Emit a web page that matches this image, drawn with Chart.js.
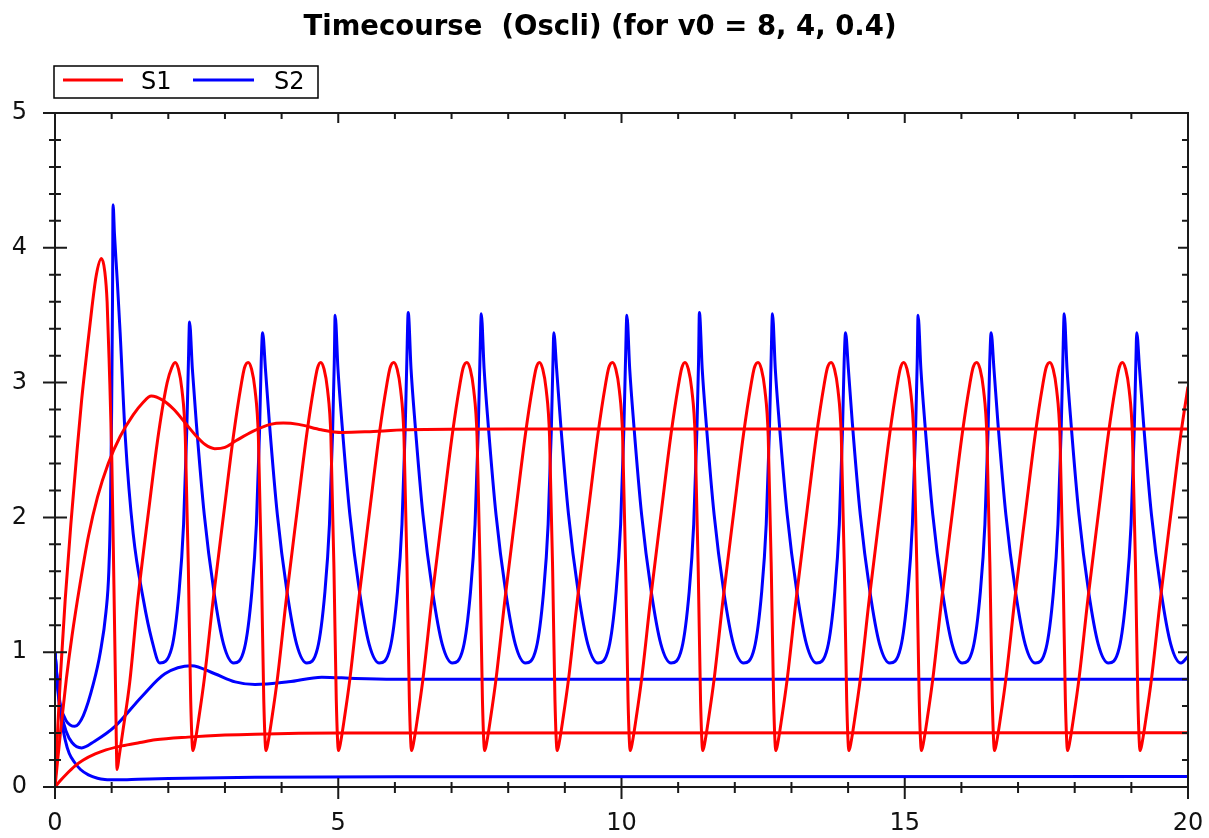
<!DOCTYPE html>
<html>
<head>
<meta charset="utf-8">
<title>Timecourse (Oscli)</title>
<script src="https://cdn.jsdelivr.net/npm/chart.js@4/dist/chart.umd.min.js"></script>
<style>
  html, body { margin: 0; padding: 0; background: #fff; }
  #wrap { width: 1209px; height: 838px; }
</style>
</head>
<body>
<div id="wrap"><canvas id="timecourse" width="1209" height="838"></canvas></div>
<script>
// Data (time, concentration)
// ******************************************
const chartTitle = 'Timecourse  (Oscli) (for v0 = 8, 4, 0.4)';
const seriesNames = ['S1', 'S2'];
const xTicks = [0, 5, 10, 15, 20];
const yTicks = [0, 1, 2, 3, 4, 5];

// v0 = 8 : S1 (oscillating)
const s1HighT = [
  0, 0.05, 0.1, 0.18, 0.28, 0.39, 0.47, 0.55, 0.65, 0.73, 0.82, 0.88, 0.92, 0.96, 1.0, 1.04, 1.07, 1.095,
  1.13, 1.2, 1.32, 1.46, 1.65, 1.83, 1.98, 2.06,
  2.12, 2.18, 2.24, 2.30, 2.355, 2.395, 2.435, 2.475, 2.535, 2.635, 2.795, 2.985, 3.155, 3.285, 3.345,
  3.41, 3.47, 3.53, 3.59, 3.645, 3.685, 3.725, 3.765, 3.825, 3.925, 4.085, 4.275, 4.445, 4.575, 4.635,
  4.69, 4.75, 4.81, 4.87, 4.925, 4.965, 5.005, 5.045, 5.105, 5.205, 5.365, 5.555, 5.725, 5.855, 5.915,
  5.98, 6.04, 6.10, 6.16, 6.215, 6.255, 6.295, 6.335, 6.395, 6.495, 6.655, 6.845, 7.015, 7.145, 7.205,
  7.27, 7.33, 7.39, 7.45, 7.505, 7.545, 7.585, 7.625, 7.685, 7.785, 7.945, 8.135, 8.305, 8.435, 8.495,
  8.55, 8.61, 8.67, 8.73, 8.785, 8.825, 8.865, 8.905, 8.965, 9.065, 9.225, 9.415, 9.585, 9.715, 9.775,
  9.84, 9.90, 9.96, 10.02, 10.075, 10.115, 10.155, 10.195, 10.255, 10.355, 10.515, 10.705, 10.875, 11.005, 11.065,
  11.12, 11.18, 11.24, 11.30, 11.355, 11.395, 11.435, 11.475, 11.535, 11.635, 11.795, 11.985, 12.155, 12.285, 12.345,
  12.41, 12.47, 12.53, 12.59, 12.645, 12.685, 12.725, 12.765, 12.825, 12.925, 13.085, 13.275, 13.445, 13.575, 13.635,
  13.70, 13.76, 13.82, 13.88, 13.935, 13.975, 14.015, 14.055, 14.115, 14.215, 14.375, 14.565, 14.735, 14.865, 14.925,
  14.98, 15.04, 15.10, 15.16, 15.215, 15.255, 15.295, 15.335, 15.395, 15.495, 15.655, 15.845, 16.015, 16.145, 16.205,
  16.27, 16.33, 16.39, 16.45, 16.505, 16.545, 16.585, 16.625, 16.685, 16.785, 16.945, 17.135, 17.305, 17.435, 17.495,
  17.56, 17.62, 17.68, 17.74, 17.795, 17.835, 17.875, 17.915, 17.975, 18.075, 18.235, 18.425, 18.595, 18.725, 18.785,
  18.84, 18.90, 18.96, 19.02, 19.075, 19.115, 19.155, 19.195, 19.255, 19.355, 19.515, 19.705, 19.875, 20.0,
];
const s1HighV = [
  0, 0.45, 0.85, 1.39, 1.95, 2.5, 2.87, 3.18, 3.55, 3.8, 3.92, 3.82, 3.6, 3.1, 2.5, 1.5, 0.7, 0.13,
  0.22, 0.42, 0.78, 1.38, 2.04, 2.63, 3.0, 3.11,
  3.15, 3.1, 2.95, 2.6, 1.6, 0.65, 0.27, 0.34, 0.5, 0.8, 1.4, 2.05, 2.62, 2.98, 3.11,
  3.15, 3.1, 2.95, 2.6, 1.6, 0.65, 0.27, 0.34, 0.5, 0.8, 1.4, 2.05, 2.62, 2.98, 3.11,
  3.15, 3.1, 2.95, 2.6, 1.6, 0.65, 0.27, 0.34, 0.5, 0.8, 1.4, 2.05, 2.62, 2.98, 3.11,
  3.15, 3.1, 2.95, 2.6, 1.6, 0.65, 0.27, 0.34, 0.5, 0.8, 1.4, 2.05, 2.62, 2.98, 3.11,
  3.15, 3.1, 2.95, 2.6, 1.6, 0.65, 0.27, 0.34, 0.5, 0.8, 1.4, 2.05, 2.62, 2.98, 3.11,
  3.15, 3.1, 2.95, 2.6, 1.6, 0.65, 0.27, 0.34, 0.5, 0.8, 1.4, 2.05, 2.62, 2.98, 3.11,
  3.15, 3.1, 2.95, 2.6, 1.6, 0.65, 0.27, 0.34, 0.5, 0.8, 1.4, 2.05, 2.62, 2.98, 3.11,
  3.15, 3.1, 2.95, 2.6, 1.6, 0.65, 0.27, 0.34, 0.5, 0.8, 1.4, 2.05, 2.62, 2.98, 3.11,
  3.15, 3.1, 2.95, 2.6, 1.6, 0.65, 0.27, 0.34, 0.5, 0.8, 1.4, 2.05, 2.62, 2.98, 3.11,
  3.15, 3.1, 2.95, 2.6, 1.6, 0.65, 0.27, 0.34, 0.5, 0.8, 1.4, 2.05, 2.62, 2.98, 3.11,
  3.15, 3.1, 2.95, 2.6, 1.6, 0.65, 0.27, 0.34, 0.5, 0.8, 1.4, 2.05, 2.62, 2.98, 3.11,
  3.15, 3.1, 2.95, 2.6, 1.6, 0.65, 0.27, 0.34, 0.5, 0.8, 1.4, 2.05, 2.62, 2.98, 3.11,
  3.15, 3.1, 2.95, 2.6, 1.6, 0.65, 0.27, 0.34, 0.5, 0.8, 1.4, 2.05, 2.62, 2.98, 3.11,
  3.15, 3.1, 2.95, 2.6, 1.6, 0.65, 0.27, 0.34, 0.5, 0.8, 1.4, 2.05, 2.62, 2.97,
];

// v0 = 8 : S2 (oscillating, sharp spikes)
const s2HighT = [
  0, 0.05, 0.1, 0.2, 0.35, 0.5, 0.68, 0.8, 0.9, 0.95, 0.98, 1.0, 1.015, 1.025, 1.05, 1.1, 1.15, 1.24, 1.38, 1.56, 1.71, 1.85,
  2.06, 2.19, 2.27, 2.325, 2.355,
  2.375, 2.425, 2.495, 2.635, 2.805, 2.975, 3.155, 3.345, 3.475, 3.555, 3.61, 3.64,
  3.665, 3.715, 3.785, 3.925, 4.095, 4.265, 4.445, 4.635, 4.765, 4.845, 4.9, 4.93,
  4.945, 4.995, 5.065, 5.205, 5.375, 5.545, 5.725, 5.915, 6.045, 6.125, 6.18, 6.21,
  6.235, 6.285, 6.355, 6.495, 6.665, 6.835, 7.015, 7.205, 7.335, 7.415, 7.47, 7.5,
  7.525, 7.575, 7.645, 7.785, 7.955, 8.125, 8.305, 8.495, 8.625, 8.705, 8.76, 8.79,
  8.805, 8.855, 8.925, 9.065, 9.235, 9.405, 9.585, 9.775, 9.905, 9.985, 10.04, 10.07,
  10.095, 10.145, 10.215, 10.355, 10.525, 10.695, 10.875, 11.065, 11.195, 11.275, 11.33, 11.36,
  11.375, 11.425, 11.495, 11.635, 11.805, 11.975, 12.155, 12.345, 12.475, 12.555, 12.61, 12.64,
  12.665, 12.715, 12.785, 12.925, 13.095, 13.265, 13.445, 13.635, 13.765, 13.845, 13.9, 13.93,
  13.955, 14.005, 14.075, 14.215, 14.385, 14.555, 14.735, 14.925, 15.055, 15.135, 15.19, 15.22,
  15.235, 15.285, 15.355, 15.495, 15.665, 15.835, 16.015, 16.205, 16.335, 16.415, 16.47, 16.5,
  16.525, 16.575, 16.645, 16.785, 16.955, 17.125, 17.305, 17.495, 17.625, 17.705, 17.76, 17.79,
  17.815, 17.865, 17.935, 18.075, 18.245, 18.415, 18.595, 18.785, 18.915, 18.995, 19.05, 19.08,
  19.095, 19.145, 19.215, 19.355, 19.525, 19.695, 19.875, 20.0,
];
const s2HighV = [
  1.0, 0.75, 0.6, 0.49, 0.45, 0.53, 0.77, 1.0, 1.3, 1.6, 2.1, 2.8, 3.6, 4.32, 4.1, 3.75, 3.37, 2.6, 1.88, 1.39, 1.09, 0.92,
  1.03, 1.45, 1.95, 2.63, 3.15,
  3.45, 3.1, 2.7, 2.02, 1.45, 1.06, 0.92, 1.03, 1.45, 1.95, 2.63, 3.15,
  3.37, 3.1, 2.7, 2.02, 1.45, 1.06, 0.92, 1.03, 1.45, 1.95, 2.63, 3.15,
  3.50, 3.1, 2.7, 2.02, 1.45, 1.06, 0.92, 1.03, 1.45, 1.95, 2.63, 3.15,
  3.52, 3.1, 2.7, 2.02, 1.45, 1.06, 0.92, 1.03, 1.45, 1.95, 2.63, 3.15,
  3.51, 3.1, 2.7, 2.02, 1.45, 1.06, 0.92, 1.03, 1.45, 1.95, 2.63, 3.15,
  3.37, 3.1, 2.7, 2.02, 1.45, 1.06, 0.92, 1.03, 1.45, 1.95, 2.63, 3.15,
  3.50, 3.1, 2.7, 2.02, 1.45, 1.06, 0.92, 1.03, 1.45, 1.95, 2.63, 3.15,
  3.52, 3.1, 2.7, 2.02, 1.45, 1.06, 0.92, 1.03, 1.45, 1.95, 2.63, 3.15,
  3.51, 3.1, 2.7, 2.02, 1.45, 1.06, 0.92, 1.03, 1.45, 1.95, 2.63, 3.15,
  3.37, 3.1, 2.7, 2.02, 1.45, 1.06, 0.92, 1.03, 1.45, 1.95, 2.63, 3.15,
  3.50, 3.1, 2.7, 2.02, 1.45, 1.06, 0.92, 1.03, 1.45, 1.95, 2.63, 3.15,
  3.37, 3.1, 2.7, 2.02, 1.45, 1.06, 0.92, 1.03, 1.45, 1.95, 2.63, 3.15,
  3.51, 3.1, 2.7, 2.02, 1.45, 1.06, 0.92, 1.03, 1.45, 1.95, 2.63, 3.15,
  3.37, 3.1, 2.7, 2.02, 1.45, 1.06, 0.92, 0.97,
];

// v0 = 4 : damped towards steady state
const s1MidT = [0, 0.1, 0.2, 0.3, 0.44, 0.59, 0.75, 0.94, 1.15, 1.38, 1.55, 1.7, 1.9, 2.1, 2.3, 2.5, 2.65, 2.82,
  3.0, 3.2, 3.5, 3.8, 4.03, 4.3, 4.7, 5.06, 5.5, 6.2, 8, 20];
const s1MidV = [0, 0.42, 0.8, 1.12, 1.5, 1.86, 2.15, 2.4, 2.6, 2.76, 2.85, 2.9, 2.87, 2.8, 2.7, 2.6, 2.54, 2.51,
  2.52, 2.57, 2.64, 2.69, 2.70, 2.69, 2.65, 2.63, 2.635, 2.65, 2.655, 2.655];
const s2MidT = [0, 0.05, 0.1, 0.2, 0.3, 0.47, 0.7, 1.06, 1.53, 1.94, 2.41, 2.82, 3.18, 3.53, 4.12, 4.71, 5.3, 6.0, 7.0, 20];
const s2MidV = [1.0, 0.74, 0.57, 0.41, 0.33, 0.29, 0.34, 0.45, 0.67, 0.84, 0.90, 0.84, 0.78, 0.76, 0.78, 0.815, 0.805, 0.80, 0.80, 0.80];

// v0 = 0.4 : monotone
const s1LowT = [0, 0.1, 0.2, 0.35, 0.5, 0.71, 0.9, 1.18, 1.5, 1.77, 2.35, 3.0, 3.53, 5, 20];
const s1LowV = [0, 0.05, 0.095, 0.155, 0.2, 0.245, 0.275, 0.305, 0.33, 0.35, 0.37, 0.385, 0.392, 0.40, 0.403];
const s2LowT = [0, 0.05, 0.1, 0.18, 0.25, 0.35, 0.45, 0.59, 0.75, 0.88, 1.1, 1.47, 2.0, 3.53, 6, 20];
const s2LowV = [1.0, 0.72, 0.53, 0.35, 0.25, 0.18, 0.13, 0.09, 0.065, 0.056, 0.053, 0.057, 0.063, 0.072, 0.076, 0.077];

const RED = 'rgb(255, 0, 0)';
const BLUE = 'rgb(0, 0, 255)';
const FONT = '"DejaVu Sans", Verdana, sans-serif';

function toPoints(t, v) {
  return t.map((x, i) => ({ x: x, y: v[i] }));
}

function line(label, t, v, color, order) {
  return {
    label: label,
    data: toPoints(t, v),
    borderColor: color,
    backgroundColor: color,
    borderWidth: 3,
    pointRadius: 0,
    fill: false,
    cubicInterpolationMode: 'monotone',
    order: order,
  };
}

// Frame with tick marks on all four sides (major + minor)
// ******************************************
const frameTicks = {
  id: 'frameTicks',
  afterDatasetsDraw(chart) {
    const { ctx, chartArea: a, scales } = chart;
    const x = scales.x;
    const y = scales.y;
    ctx.save();
    ctx.strokeStyle = '#1a1a1a';
    ctx.lineWidth = 2;
    ctx.strokeRect(a.left, a.top, a.right - a.left, a.bottom - a.top);
    ctx.beginPath();
    for (let i = 0; i <= 20; i++) {
      const px = x.getPixelForValue(i);
      const major = i % 5 === 0;
      ctx.moveTo(px, a.bottom - (major ? 9 : 5));
      ctx.lineTo(px, a.bottom + (major ? 12 : 6));
      ctx.moveTo(px, a.top);
      ctx.lineTo(px, a.top + (major ? 10 : 6));
    }
    for (let i = 0; i <= 25; i++) {
      const py = y.getPixelForValue(i / 5);
      const major = i % 5 === 0;
      ctx.moveTo(a.left - (major ? 12 : 6), py);
      ctx.lineTo(a.left + (major ? 12 : 6), py);
      ctx.moveTo(a.right - (major ? 10 : 6), py);
      ctx.lineTo(a.right, py);
    }
    ctx.stroke();
    ctx.restore();
  },
};

// Boxed legend above the plot
// ******************************************
const boxLegend = {
  id: 'boxLegend',
  afterDraw(chart) {
    const { ctx, chartArea: a } = chart;
    const left = a.left - 1;
    const top = a.top - 47;
    ctx.save();
    ctx.strokeStyle = '#000';
    ctx.lineWidth = 1.5;
    ctx.strokeRect(left, top, 264, 32);
    ctx.font = '24px ' + FONT;
    ctx.textBaseline = 'middle';
    ctx.fillStyle = '#000';
    const items = [
      { color: RED, x0: 9, x1: 69, tx: 87 },
      { color: BLUE, x0: 139, x1: 200, tx: 220 },
    ];
    items.forEach((it, i) => {
      ctx.strokeStyle = it.color;
      ctx.lineWidth = 3;
      ctx.beginPath();
      ctx.moveTo(left + it.x0, top + 14);
      ctx.lineTo(left + it.x1, top + 14);
      ctx.stroke();
      ctx.fillText(seriesNames[i], left + it.tx, top + 17);
    });
    ctx.restore();
  },
};

const tickFont = { family: FONT, size: 24 };

const config = {
  type: 'line',
  data: {
    datasets: [
      line(seriesNames[0], s1HighT, s1HighV, RED, 1),
      line(seriesNames[1], s2HighT, s2HighV, BLUE, 2),
      line(seriesNames[0], s1MidT, s1MidV, RED, 1),
      line(seriesNames[1], s2MidT, s2MidV, BLUE, 2),
      line(seriesNames[0], s1LowT, s1LowV, RED, 1),
      line(seriesNames[1], s2LowT, s2LowV, BLUE, 2),
    ],
  },
  options: {
    responsive: false,
    animation: false,
    devicePixelRatio: 1,
    layout: {
      padding: { left: 12, right: 21, top: 0, bottom: 0 },
    },
    plugins: {
      legend: { display: false },
      tooltip: { enabled: false },
      title: {
        display: true,
        text: chartTitle,
        color: '#000',
        font: { family: FONT, size: 27.5, weight: 'bold' },
        padding: { top: 11, bottom: 69 },
      },
    },
    scales: {
      x: {
        type: 'linear',
        min: xTicks[0],
        max: xTicks[xTicks.length - 1],
        grid: { display: false, drawTicks: false },
        border: { display: false },
        ticks: {
          color: '#111',
          font: tickFont,
          padding: 22,
          maxRotation: 0,
        },
        afterBuildTicks: (scale) => {
          scale.ticks = xTicks.map((v) => ({ value: v }));
        },
        afterFit: (scale) => {
          scale.height = 51;
          scale.paddingLeft = 0;
          scale.paddingRight = 0;
        },
      },
      y: {
        type: 'linear',
        min: yTicks[0],
        max: yTicks[yTicks.length - 1],
        grid: { display: false, drawTicks: false },
        border: { display: false },
        ticks: {
          color: '#111',
          font: tickFont,
          padding: 28,
        },
        afterBuildTicks: (scale) => {
          scale.ticks = yTicks.map((v) => ({ value: v }));
        },
        afterFit: (scale) => {
          scale.width = 43;
        },
      },
    },
  },
  plugins: [frameTicks, boxLegend],
};

new Chart(document.getElementById('timecourse'), config);
</script>
</body>
</html>
